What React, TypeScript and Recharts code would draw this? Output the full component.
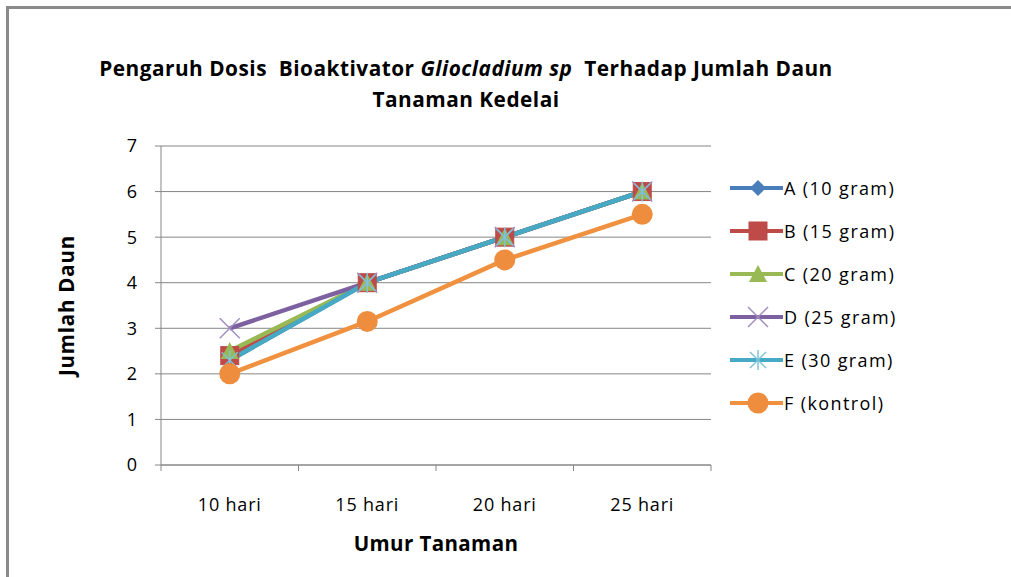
import React from "react";
import {
  LineChart,
  Line,
  XAxis,
  YAxis,
  CartesianGrid,
} from "recharts";

const categories = ["10 hari", "15 hari", "20 hari", "25 hari"];
const seriesA = [2.3, 4, 5, 6];
const seriesB = [2.4, 4, 5, 6];
const seriesC = [2.5, 4, 5, 6];
const seriesD = [3, 4, 5, 6];
const seriesE = [2.3, 4, 5, 6];
const seriesF = [2, 3.15, 4.5, 5.5];
const yTicks = [0, 1, 2, 3, 4, 5, 6, 7];

const FONT = "'Open Sans', 'Noto Sans', sans-serif";
const AXIS = "#868686";

type Shape = "diamond" | "square" | "triangle" | "x" | "star" | "circle";

const series: { key: string; name: string; color: string; mark: string; shape: Shape; values: number[] }[] = [
  { key: "a", name: "A (10 gram)", color: "#4A7EBB", mark: "#4A7EBB", shape: "diamond", values: seriesA },
  { key: "b", name: "B (15 gram)", color: "#BE4B48", mark: "#BE4B48", shape: "square", values: seriesB },
  { key: "c", name: "C (20 gram)", color: "#98B954", mark: "#98B954", shape: "triangle", values: seriesC },
  { key: "d", name: "D (25 gram)", color: "#7D60A0", mark: "#9F8CC0", shape: "x", values: seriesD },
  { key: "e", name: "E (30 gram)", color: "#46AAC5", mark: "#7CC4DA", shape: "star", values: seriesE },
  { key: "f", name: "F (kontrol)", color: "#F0913F", mark: "#EE8D3E", shape: "circle", values: seriesF },
];

// idx puts each category in the middle of its slot on a 0..n number axis
const data = categories.map((c, i) => {
  const row: Record<string, number | string> = { cat: c, idx: i + 0.5 };
  series.forEach((s) => (row[s.key] = s.values[i]));
  return row;
});

// whole numbers = slot borders (tick marks), halves = category labels
const xTicks: number[] = [];
for (let i = 0; i <= categories.length * 2; i++) xTicks.push(i / 2);

function XTick(props: any) {
  const { x, y, payload } = props;
  const v = payload.value as number;
  if (Number.isInteger(v)) {
    return <line x1={x} y1={y} x2={x} y2={y + 6} stroke={AXIS} />;
  }
  return (
    <text x={x} y={y + 46} textAnchor="middle" fill="#000" fontSize={18} fontFamily={FONT} letterSpacing={0.8}>
      {categories[Math.floor(v)]}
    </text>
  );
}

function Marker({ shape, color, cx, cy }: { shape: Shape; color: string; cx: number; cy: number }) {
  switch (shape) {
    case "diamond":
      return <polygon points={`${cx},${cy - 8} ${cx + 8},${cy} ${cx},${cy + 8} ${cx - 8},${cy}`} fill={color} />;
    case "square":
      return <rect x={cx - 9} y={cy - 9} width={18} height={18} fill={color} stroke={color} />;
    case "triangle":
      return <polygon points={`${cx},${cy - 9} ${cx + 9},${cy + 8} ${cx - 9},${cy + 8}`} fill={color} />;
    case "x":
      return (
        <g stroke={color} strokeWidth={1.5}>
          <line x1={cx - 10} y1={cy - 10} x2={cx + 10} y2={cy + 10} />
          <line x1={cx - 10} y1={cy + 10} x2={cx + 10} y2={cy - 10} />
        </g>
      );
    case "star":
      return (
        <g stroke={color} strokeWidth={1.5}>
          <line x1={cx - 8} y1={cy - 8} x2={cx + 8} y2={cy + 8} />
          <line x1={cx - 8} y1={cy + 8} x2={cx + 8} y2={cy - 8} />
          <line x1={cx} y1={cy - 10} x2={cx} y2={cy + 10} />
        </g>
      );
    default:
      return <circle cx={cx} cy={cy} r={10.5} fill={color} />;
  }
}

const makeDot = (shape: Shape, color: string) => (props: any) => (
  <Marker key={`${shape}-${props.index}`} shape={shape} color={color} cx={props.cx} cy={props.cy} />
);

function LegendBox() {
  return (
    <div style={{ fontFamily: FONT, fontSize: 18, letterSpacing: 1.4, color: "#000" }}>
      {series.map((s) => (
        <div key={s.key} style={{ display: "flex", alignItems: "center", height: 43 }}>
          <svg width={55} height={24}>
            <line x1={1} y1={12} x2={54} y2={12} stroke={s.color} strokeWidth={4} />
            <Marker shape={s.shape} color={s.mark} cx={29} cy={12} />
          </svg>
          <span style={{ whiteSpace: "pre" }}>{s.name}</span>
        </div>
      ))}
    </div>
  );
}

export default function App() {
  return (
    <div style={{ position: "absolute", left: 0, top: 0, width: 1011, height: 577, background: "#fff", overflow: "hidden" }}>
      <div
        style={{
          position: "absolute",
          left: 6,
          top: 6,
          width: 1100,
          height: 700,
          borderTop: "3px solid #8a8a8a",
          borderLeft: "3px solid #8a8a8a",
        }}
      />
      <div
        style={{
          position: "absolute",
          left: 0,
          top: 53,
          width: 932,
          textAlign: "center",
          fontFamily: FONT,
          fontWeight: 700,
          fontSize: 20.8,
          letterSpacing: 0.5,
          lineHeight: "31px",
          color: "#000",
        }}
      >
        Pengaruh Dosis&nbsp; Bioaktivator <i>Gliocladium sp</i>&nbsp; Terhadap Jumlah Daun
        <br />
        Tanaman Kedelai
      </div>
      <div style={{ position: "absolute", left: 0, top: 0 }}>
        <LineChart
          width={1011}
          height={577}
          data={data}
          margin={{ top: 146, right: 300, bottom: 82, left: 121 }}
        >
          <CartesianGrid horizontal vertical={false} stroke={AXIS} strokeWidth={1} />
          <XAxis
            dataKey="idx"
            type="number"
            domain={[0, categories.length]}
            ticks={xTicks}
            interval={0}
            height={30}
            axisLine={{ stroke: AXIS }}
            tickLine={false}
            tickSize={0}
            tickMargin={0}
            tick={<XTick />}
            label={{ value: "Umur Tanaman", position: "insideBottom", offset: -56, fill: "#000", fontSize: 20.5, fontWeight: 700, fontFamily: FONT, letterSpacing: 0.4 }}
          />
          <YAxis
            domain={[0, 7]}
            ticks={yTicks}
            width={40}
            interval={0}
            axisLine={{ stroke: AXIS }}
            tickLine={{ stroke: AXIS }}
            tickSize={6}
            tickMargin={18}
            tick={{ fill: "#000", fontSize: 18, fontFamily: FONT }}
            label={{ value: "Jumlah Daun", angle: -90, position: "insideLeft", offset: -54, fill: "#000", fontSize: 20.5, fontWeight: 700, fontFamily: FONT, letterSpacing: 0.8, style: { textAnchor: "middle" } }}
          />
          {series.map((s) => (
            <Line
              key={s.key}
              type="linear"
              dataKey={s.key}
              name={s.name}
              stroke={s.color}
              strokeWidth={4.5}
              dot={makeDot(s.shape, s.mark)}
              activeDot={false}
              isAnimationActive={false}
            />
          ))}
        </LineChart>
      </div>
      <div style={{ position: "absolute", left: 729, top: 166, width: 260 }}>
        <LegendBox />
      </div>
    </div>
  );
}
